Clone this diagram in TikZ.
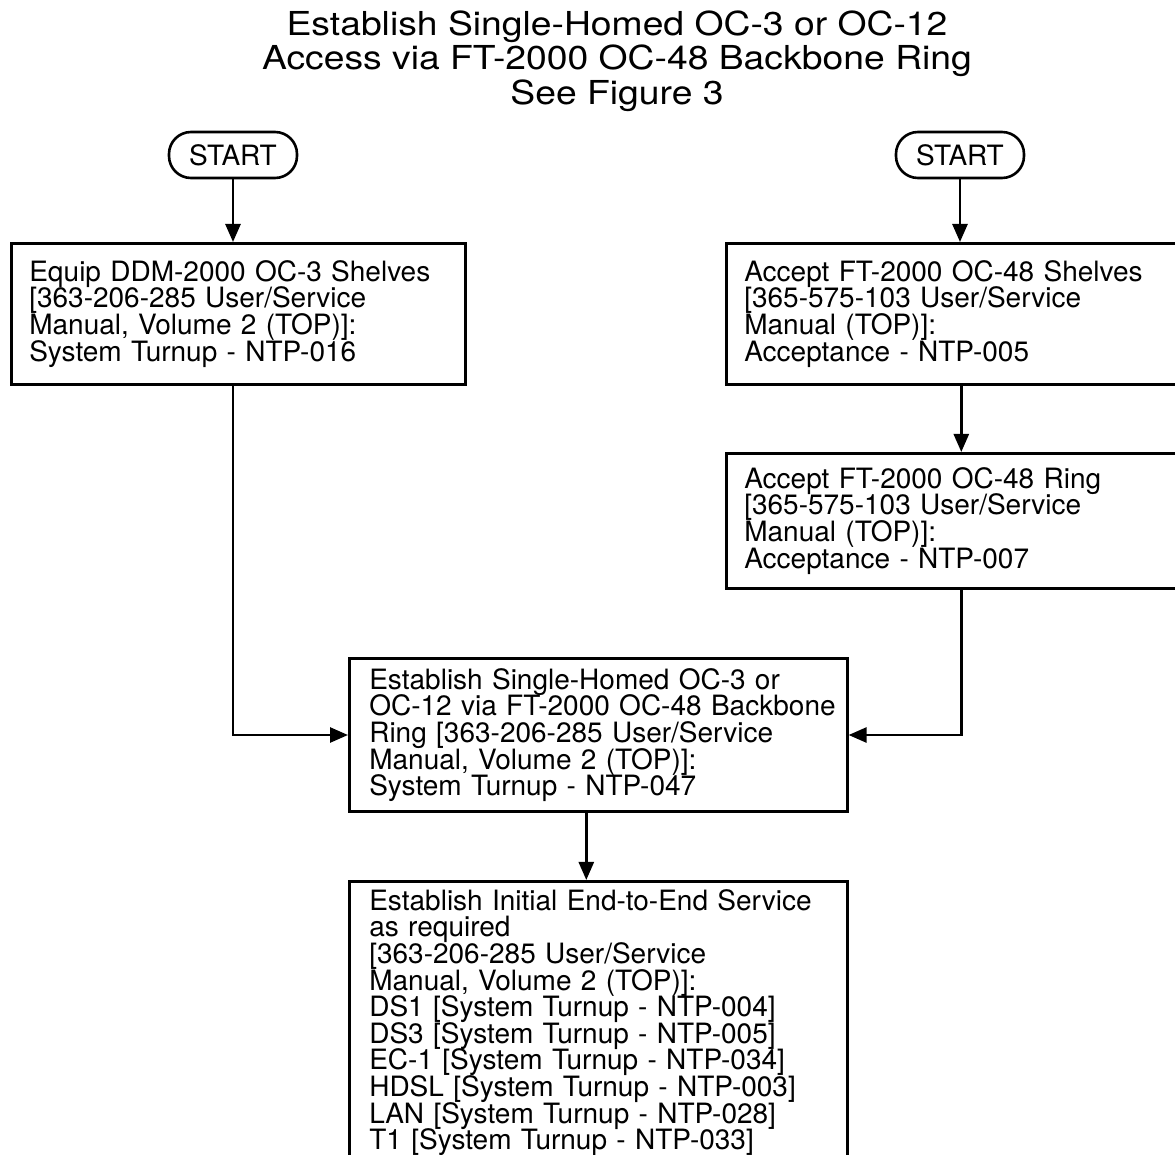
\documentclass[tikz,border=0pt]{standalone}
\usepackage{fontspec}
\setmainfont{TeX Gyre Heros}
\newfontfamily\titlefont[FakeStretch=1.13]{TeX Gyre Heros}
\newcommand{\boxfont}{\fontsize{14}{13.3}\selectfont\lineskiplimit=-10pt\relax\lineskip=0pt\relax}
\usetikzlibrary{arrows.meta}
\tikzset{
  stepbox/.style={draw, line width=1.3pt, anchor=north west, align=left,
    inner xsep=9pt, inner ysep=5pt, font=\boxfont},
  startbox/.style={draw, line width=1.3pt, rounded corners=11pt,
    minimum width=64pt, minimum height=23pt, font=\boxfont},
  arr/.style={line width=1.3pt, -{Triangle[length=9pt,width=7.5pt]}},
}
\begin{document}
\begin{tikzpicture}[x=0.5pt,y=-0.5pt]
\useasboundingbox (0,0) rectangle (1175,1155);
\node[font=\titlefont\fontsize{16.5}{17.25}\selectfont, align=center] (title) at (617,61)
  {Establish Single-Homed OC-3 or OC-12\\Access via FT-2000 OC-48 Backbone Ring\\See Figure 3};
\node[startbox] (lstart) at (233,155) {START};
\node[startbox] (rstart) at (960,155) {START};
\node[stepbox, text width=209pt, minimum height=70.5pt] (ddm) at (10,242)
  {Equip DDM-2000 OC-3 Shelves\\{[}363-206-285 User/Service\\Manual, Volume 2 (TOP)]:\\System Turnup - NTP-016};
\node[stepbox, text width=217pt, minimum height=70.5pt] (acs) at (725,242)
  {Accept FT-2000 OC-48 Shelves\\{[}365-575-103 User/Service\\Manual (TOP)]:\\Acceptance - NTP-005};
\node[stepbox, text width=217pt, minimum height=67.5pt] (acr) at (725,452)
  {Accept FT-2000 OC-48 Ring\\{[}365-575-103 User/Service\\Manual (TOP)]:\\Acceptance - NTP-007};
\node[stepbox, text width=229pt, inner xsep=10pt, minimum height=76.5pt] (est) at (348,657)
  {Establish Single-Homed OC-3 or\\\mbox{OC-12 via FT-2000 OC-48 Backbone}\\Ring [363-206-285 User/Service\\Manual, Volume 2 (TOP)]:\\System Turnup - NTP-047};
\node[stepbox, text width=229pt, inner xsep=10pt, inner ysep=4pt] (svc) at (348,880)
  {Establish Initial End-to-End Service\\as required\\{[}363-206-285 User/Service\\Manual, Volume 2 (TOP)]:\\DS1 [System Turnup - NTP-004]\\DS3 [System Turnup - NTP-005]\\EC-1 [System Turnup - NTP-034]\\HDSL [System Turnup - NTP-003]\\LAN [System Turnup - NTP-028]\\T1 [System Turnup - NTP-033]};
\draw[arr] (lstart.south) -- (lstart.south |- ddm.north);
\draw[arr] (rstart.south) -- (rstart.south |- acs.north);
\draw[arr] (acs.south) -- (acr.north);
\draw[arr] (lstart.south |- ddm.south) |- (est.west);
\draw[arr] (acr.south) |- (est.east);
\draw[arr] ([xshift=-6pt]est.south) -- ([xshift=-6pt]svc.north);
\end{tikzpicture}
\end{document}
